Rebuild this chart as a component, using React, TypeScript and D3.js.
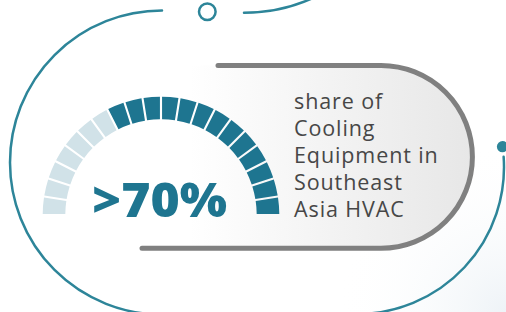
import { useEffect, useRef } from 'react'
import * as d3 from 'd3'

const W = 506
const H = 312

// gauge data
const SHARE = 70
const SEGMENT_COUNT = 20
const HEADLINE = '>70%'
const CAPTION_LINES = ['share of', 'Cooling', 'Equipment in', 'Southeast', 'Asia HVAC']

const TEAL_DARK = '#1e7590'
const TEAL_LIGHT = '#d1e2e8'
const RING = '#2d8599'
const PILL_STROKE = '#808080'
const TEXT = '#474747'

const GAUGE = { cx: 161, cy: 215, inner: 95.7, outer: 118.3 }
const PILL = { left: 142, topStart: 218, top: 65.5, bottom: 248.3, arcCx: 381 }

export default function App() {
  const svgRef = useRef<SVGSVGElement>(null)

  useEffect(() => {
    if (!svgRef.current) return
    const svg = d3.select(svgRef.current)
    svg.selectAll('*').remove()

    const defs = svg.append('defs')
    const pillGrad = defs.append('linearGradient')
      .attr('id', 'pillFill')
      .attr('gradientUnits', 'userSpaceOnUse')
      .attr('x1', 190).attr('x2', 472).attr('y1', 0).attr('y2', 0)
    pillGrad.append('stop').attr('offset', 0).attr('stop-color', '#ffffff')
    pillGrad.append('stop').attr('offset', 1).attr('stop-color', '#e7e7e7')

    const cornerGrad = defs.append('radialGradient')
      .attr('id', 'cornerTint')
      .attr('gradientUnits', 'userSpaceOnUse')
      .attr('cx', W).attr('cy', H).attr('r', 170)
    cornerGrad.append('stop').attr('offset', 0).attr('stop-color', '#eef3f7')
    cornerGrad.append('stop').attr('offset', 1).attr('stop-color', '#ffffff').attr('stop-opacity', 0)

    svg.append('rect').attr('width', W).attr('height', H).attr('fill', '#fff')
    svg.append('rect').attr('width', W).attr('height', H).attr('fill', 'url(#cornerTint)')

    // decorative ring pieces
    const ring = svg.append('g')
      .attr('fill', 'none')
      .attr('stroke', RING)
      .attr('stroke-width', 2.5)
      .attr('stroke-linecap', 'round')

    const leftArc = d3.path()
    leftArc.arc(162, 162.5, 152, -Math.PI / 2, -1.5 * Math.PI, true)
    ring.append('path').attr('d', leftArc.toString())

    const rightArc = d3.path()
    rightArc.arc(357, 167, 147, -0.07, Math.PI / 2, false)
    ring.append('path').attr('d', rightArc.toString())

    const topArc = d3.path()
    topArc.arc(244, 12.7 - 167.6, 167.6, Math.PI / 2, Math.PI / 2 - 0.6, true)
    ring.append('path').attr('d', topArc.toString())

    ring.append('circle').attr('cx', 207.3).attr('cy', 11.7).attr('r', 8.3)
    svg.append('circle').attr('cx', 502.5).attr('cy', 146.7).attr('r', 5.6).attr('fill', RING)

    // pill
    const r = (PILL.bottom - PILL.top) / 2
    const fill = d3.path()
    fill.moveTo(PILL.left, PILL.top)
    fill.lineTo(PILL.arcCx, PILL.top)
    fill.arc(PILL.arcCx, PILL.top + r, r, -Math.PI / 2, Math.PI / 2)
    fill.lineTo(PILL.left, PILL.bottom)
    fill.closePath()
    svg.append('path').attr('d', fill.toString()).attr('fill', 'url(#pillFill)')

    const outline = d3.path()
    outline.moveTo(PILL.topStart, PILL.top)
    outline.lineTo(PILL.arcCx, PILL.top)
    outline.arc(PILL.arcCx, PILL.top + r, r, -Math.PI / 2, Math.PI / 2)
    outline.lineTo(PILL.left, PILL.bottom)
    svg.append('path')
      .attr('d', outline.toString())
      .attr('fill', 'none')
      .attr('stroke', PILL_STROKE)
      .attr('stroke-width', 5)
      .attr('stroke-linecap', 'round')

    // gauge
    const angle = d3.scaleLinear().domain([0, SEGMENT_COUNT]).range([-Math.PI / 2, Math.PI / 2])
    const firstFilled = SEGMENT_COUNT * (1 - SHARE / 100)
    const arcGen = d3.arc<number>()
      .innerRadius(GAUGE.inner)
      .outerRadius(GAUGE.outer)
      .startAngle(i => angle(i))
      .endAngle(i => angle(i + 1))
      .padAngle(0.014)

    svg.append('g')
      .attr('transform', `translate(${GAUGE.cx},${GAUGE.cy})`)
      .selectAll('path')
      .data(d3.range(SEGMENT_COUNT))
      .enter()
      .append('path')
      .attr('d', d => arcGen(d) as string)
      .attr('fill', d => (d >= firstFilled ? TEAL_DARK : TEAL_LIGHT))

    svg.append('text')
      .text(HEADLINE)
      .attr('x', 159.5)
      .attr('y', 216.5)
      .attr('text-anchor', 'middle')
      .attr('textLength', 135)
      .attr('lengthAdjust', 'spacingAndGlyphs')
      .attr('font-family', '"Open Sans", sans-serif')
      .attr('font-weight', 800)
      .attr('font-size', 47)
      .attr('fill', TEAL_DARK)

    // caption
    svg.append('g')
      .selectAll('text')
      .data(CAPTION_LINES)
      .enter()
      .append('text')
      .text(d => d)
      .attr('x', 294)
      .attr('y', (_, i) => 109.3 + i * 26.85)
      .attr('font-family', '"Open Sans", sans-serif')
      .attr('font-size', 21.5)
      .attr('letter-spacing', 0.9)
      .attr('fill', TEXT)
  }, [])

  return (
    <div style={{ position: 'fixed', left: 0, top: 0 }}>
      <svg ref={svgRef} width={W} height={H} style={{ display: 'block' }} />
    </div>
  )
}
